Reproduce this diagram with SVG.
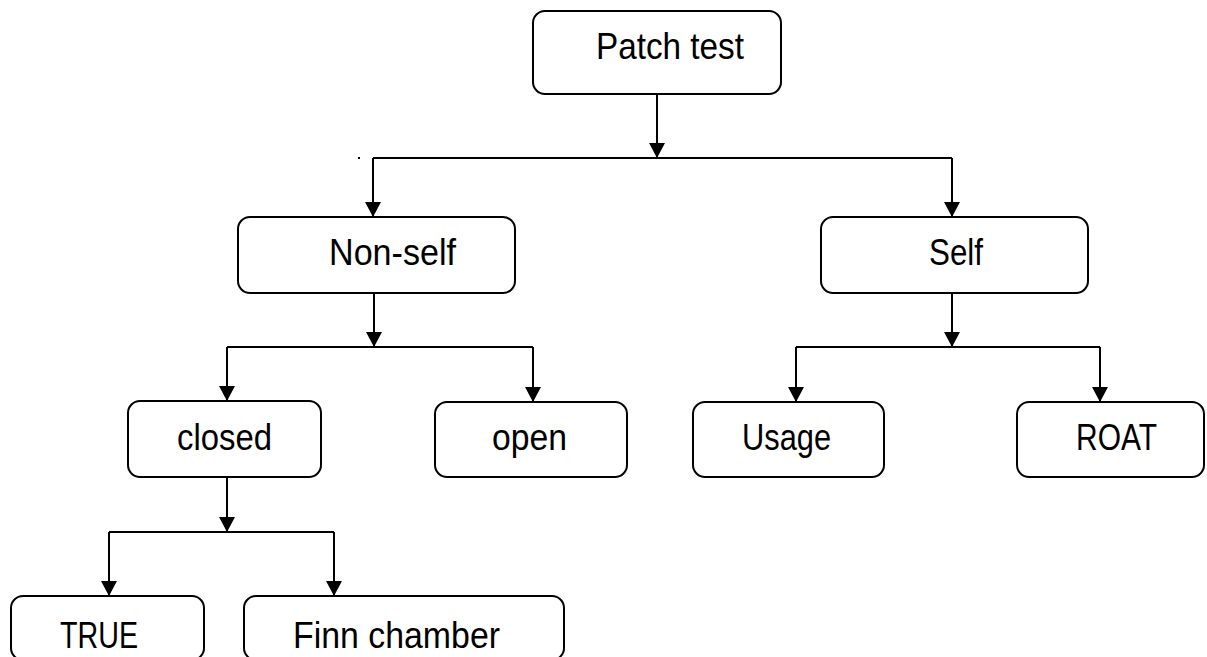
<svg xmlns="http://www.w3.org/2000/svg" width="1207" height="657" viewBox="0 0 1207 657">
  <style>
    .box { fill: #ffffff; stroke: #000000; stroke-width: 2; }
    .lbl { font-family: "Liberation Sans", Arial, sans-serif; font-size: 36px; fill: #000000; }
    .wire { fill: none; stroke: #000000; stroke-width: 2; }
  </style>
  <defs>
    <marker id="arrow" markerUnits="userSpaceOnUse" markerWidth="16" markerHeight="16" refX="15" refY="8" orient="auto">
      <path d="M0,0 L15,8 L0,16 z" fill="#000000"/>
    </marker>
  </defs>
  <rect width="1207" height="657" fill="#ffffff"/>

  <g id="connectors">
    <!-- Patch test to its two branches -->
    <line class="wire" x1="657" y1="94" x2="657" y2="158" marker-end="url(#arrow)"/>
    <polyline class="wire" points="373,158 952,158"/>
    <line class="wire" x1="373" y1="158" x2="373" y2="217" marker-end="url(#arrow)"/>
    <line class="wire" x1="952" y1="158" x2="952" y2="217" marker-end="url(#arrow)"/>
    <!-- Non-self branch -->
    <line class="wire" x1="374" y1="293" x2="374" y2="347" marker-end="url(#arrow)"/>
    <polyline class="wire" points="227,347 533,347"/>
    <line class="wire" x1="227" y1="347" x2="227" y2="401" marker-end="url(#arrow)"/>
    <line class="wire" x1="533" y1="347" x2="533" y2="402" marker-end="url(#arrow)"/>
    <!-- Self branch -->
    <line class="wire" x1="952" y1="293" x2="952" y2="347" marker-end="url(#arrow)"/>
    <polyline class="wire" points="796,347 1100,347"/>
    <line class="wire" x1="796" y1="347" x2="796" y2="402" marker-end="url(#arrow)"/>
    <line class="wire" x1="1100" y1="347" x2="1100" y2="402" marker-end="url(#arrow)"/>
    <!-- closed branch -->
    <line class="wire" x1="227" y1="477" x2="227" y2="532" marker-end="url(#arrow)"/>
    <polyline class="wire" points="109,532 334,532"/>
    <line class="wire" x1="109" y1="532" x2="109" y2="596" marker-end="url(#arrow)"/>
    <line class="wire" x1="334" y1="532" x2="334" y2="596" marker-end="url(#arrow)"/>
  </g>

  <rect x="358" y="157" width="2" height="2" fill="#000000"/>

  <g id="patch-test">
    <rect class="box" x="533" y="11" width="248" height="83" rx="12"/>
    <text class="lbl" x="596" y="59" textLength="148" lengthAdjust="spacingAndGlyphs">Patch test</text>
  </g>
  <g id="non-self">
    <rect class="box" x="238" y="217" width="277" height="76" rx="12"/>
    <text class="lbl" x="329" y="265" textLength="127" lengthAdjust="spacingAndGlyphs">Non-self</text>
  </g>
  <g id="self">
    <rect class="box" x="821" y="217" width="267" height="76" rx="12"/>
    <text class="lbl" x="929" y="265" textLength="54" lengthAdjust="spacingAndGlyphs">Self</text>
  </g>
  <g id="closed">
    <rect class="box" x="128" y="401" width="193" height="76" rx="12"/>
    <text class="lbl" x="177" y="450" textLength="95" lengthAdjust="spacingAndGlyphs">closed</text>
  </g>
  <g id="open">
    <rect class="box" x="435" y="402" width="192" height="75" rx="12"/>
    <text class="lbl" x="492" y="450" textLength="75" lengthAdjust="spacingAndGlyphs">open</text>
  </g>
  <g id="usage">
    <rect class="box" x="693" y="402" width="191" height="75" rx="12"/>
    <text class="lbl" x="742" y="450" textLength="89" lengthAdjust="spacingAndGlyphs">Usage</text>
  </g>
  <g id="roat">
    <rect class="box" x="1017" y="402" width="187" height="75" rx="12"/>
    <text class="lbl" x="1076" y="450" textLength="81" lengthAdjust="spacingAndGlyphs">ROAT</text>
  </g>
  <g id="true">
    <rect class="box" x="11" y="596" width="193" height="64" rx="12"/>
    <text class="lbl" x="60" y="648" textLength="78" lengthAdjust="spacingAndGlyphs">TRUE</text>
  </g>
  <g id="finn-chamber">
    <rect class="box" x="244" y="596" width="320" height="64" rx="12"/>
    <text class="lbl" x="293" y="648" textLength="207" lengthAdjust="spacingAndGlyphs">Finn chamber</text>
  </g>
</svg>
